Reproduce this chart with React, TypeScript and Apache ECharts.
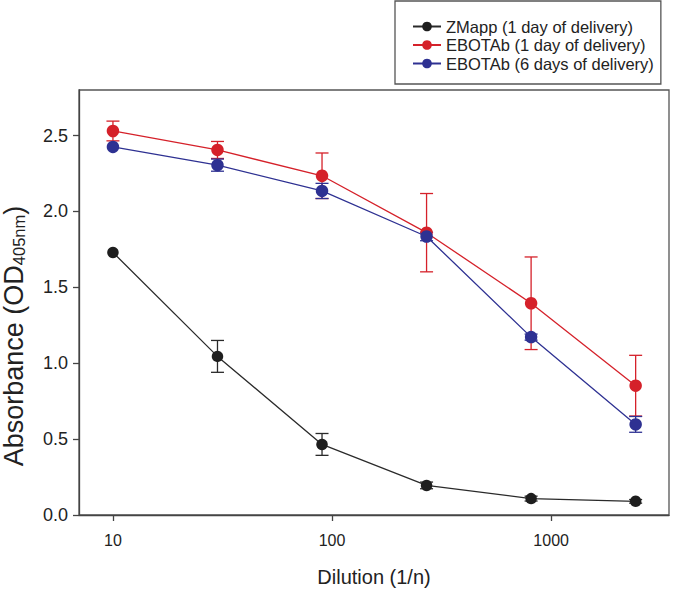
import React, { useEffect, useRef } from "react";
import * as echarts from "echarts";

const dilutions = [10, 30, 90, 270, 810, 2430];
const seriesNames = [
  "ZMapp (1 day of delivery)",
  "EBOTAb (1 day of delivery)",
  "EBOTAb (6 days of delivery)",
];
const zmapp = [1.73, 1.045, 0.465, 0.195, 0.108, 0.09];
const zmappErr = [0, 0.105, 0.072, 0.022, 0.016, 0.012];
const ebo1 = [2.53, 2.405, 2.235, 1.86, 1.395, 0.852];
const ebo1Err = [0.065, 0.056, 0.15, 0.258, 0.305, 0.2];
const ebo6 = [2.425, 2.305, 2.135, 1.835, 1.172, 0.597];
const ebo6Err = [0, 0.04, 0.05, 0.028, 0.02, 0.052];
const xTicks = [10, 100, 1000];
const yTicks = [0, 0.5, 1.0, 1.5, 2.0, 2.5];

const colors = ["#1e1e1e", "#d5212a", "#2e3192"];
const lineColors = ["#2a2a2a", "#d5212a", "#2e3192"];
const FONT = "Liberation Sans, Arial, sans-serif";

function errSeries(vals: number[], errs: number[], color: string) {
  return {
    type: "custom",
    silent: true,
    z: 1,
    encode: { x: 0, y: [1, 2] },
    data: dilutions.map((d, i) => [d, vals[i] - errs[i], vals[i] + errs[i]]),
    renderItem: (params: any, api: any) => {
      const x = api.value(0);
      const lo = api.value(1);
      const hi = api.value(2);
      if (hi - lo < 1e-6) return null;
      const p1 = api.coord([x, hi]);
      const p2 = api.coord([x, lo]);
      const w = 6.5;
      const style = { stroke: color, lineWidth: 1.3, fill: null };
      return {
        type: "group",
        children: [
          { type: "line", shape: { x1: p1[0], y1: p1[1], x2: p2[0], y2: p2[1] }, style },
          { type: "line", shape: { x1: p1[0] - w, y1: p1[1], x2: p1[0] + w, y2: p1[1] }, style },
          { type: "line", shape: { x1: p2[0] - w, y1: p2[1], x2: p2[0] + w, y2: p2[1] }, style },
        ],
      };
    },
  };
}

function lineSeries(name: string, vals: number[], idx: number, size: number) {
  return {
    type: "line",
    name,
    z: 3 + idx,
    data: dilutions.map((d, i) => [d, vals[i]]),
    symbol: "circle",
    symbolSize: size,
    itemStyle: { color: colors[idx] },
    lineStyle: { color: lineColors[idx], width: 1.3 },
  };
}

export default function App() {
  const ref = useRef<HTMLDivElement>(null);
  useEffect(() => {
    const chart = echarts.init(ref.current!, null, { renderer: "svg" });
    chart.setOption({
      animation: false,
      textStyle: { fontFamily: FONT },
      grid: {
        left: 79,
        top: 90,
        right: 6,
        bottom: 75,
        show: true,
        borderColor: "#555",
        borderWidth: 1.3,
      },
      legend: {
        data: seriesNames,
        orient: "vertical",
        left: 395,
        top: 1,
        padding: [17, 7, 12, 17],
        itemGap: 1.5,
        itemWidth: 28,
        itemHeight: 12,
        borderColor: "#555",
        borderWidth: 1.3,
        textStyle: { fontFamily: FONT, fontSize: 16.5, color: "#222", lineHeight: 16.5 },
      },
      xAxis: {
        type: "log",
        logBase: 10,
        min: 7,
        max: 3450,
        name: "Dilution (1/n)",
        nameLocation: "middle",
        nameGap: 52,
        nameTextStyle: { fontFamily: FONT, fontSize: 20, color: "#222" },
        axisLine: { lineStyle: { color: "#444", width: 1.3 } },
        axisTick: { show: true, length: 6, customValues: xTicks, lineStyle: { color: "#444", width: 1.3 } },
        minorTick: { show: false },
        axisLabel: {
          customValues: xTicks,
          margin: 17,
          fontFamily: FONT,
          fontSize: 16,
          color: "#222",
          formatter: (v: number) => String(Math.round(v)),
        },
        splitLine: { show: false },
      },
      yAxis: {
        type: "value",
        min: 0,
        max: 2.8,
        axisLine: { show: true, lineStyle: { color: "#444", width: 1.3 } },
        axisTick: { show: true, length: 6, customValues: yTicks, lineStyle: { color: "#444", width: 1.3 } },
        axisLabel: {
          customValues: yTicks,
          margin: 11,
          fontFamily: FONT,
          fontSize: 18,
          color: "#222",
          formatter: (v: number) => v.toFixed(1),
        },
        splitLine: { show: false },
      },
      graphic: [
        {
          type: "text",
          x: 14,
          y: 336,
          rotation: Math.PI / 2,
          style: {
            text: "{a|Absorbance (OD}{s|405nm}{a|)}",
            align: "center",
            verticalAlign: "middle",
            fill: "#222",
            rich: {
              a: { fontFamily: FONT, fontSize: 27, lineHeight: 27, verticalAlign: "top", fill: "#222" },
              s: { fontFamily: FONT, fontSize: 16.5, lineHeight: 12, verticalAlign: "bottom", fill: "#222" },
            },
          },
        },
      ],
      series: [
        errSeries(zmapp, zmappErr, lineColors[0]),
        errSeries(ebo1, ebo1Err, colors[1]),
        errSeries(ebo6, ebo6Err, colors[2]),
        lineSeries(seriesNames[0], zmapp, 0, 11.5),
        lineSeries(seriesNames[1], ebo1, 1, 12.5),
        lineSeries(seriesNames[2], ebo6, 2, 12.5),
      ],
    });
    return () => chart.dispose();
  }, []);
  return <div ref={ref} style={{ width: 675, height: 592, position: "absolute", left: 0, top: 0 }} />;
}
